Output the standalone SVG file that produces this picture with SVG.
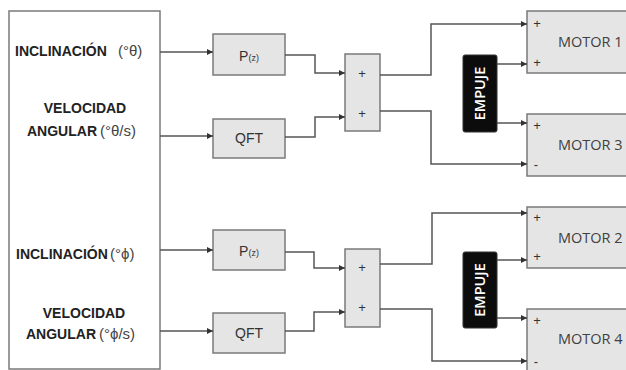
<svg xmlns="http://www.w3.org/2000/svg" width="626" height="370" viewBox="0 0 626 370">
<defs>
<marker id="arr" markerUnits="userSpaceOnUse" markerWidth="8" markerHeight="8" refX="6" refY="3" orient="auto">
<path d="M0,0 L6,3 L0,6 Z" fill="#333"/>
</marker>
<style>
.box{fill:#e5e5e5;stroke:#7a7a7a;stroke-width:1.5}
.frame{fill:#fff;stroke:#7a7a7a;stroke-width:1.5}
.blk{fill:#0c0c0c;stroke:#333;stroke-width:1}
.ln{fill:none;stroke:#555;stroke-width:1.5;marker-end:url(#arr)}
.lab{font-family:"Liberation Sans",Arial,sans-serif;font-size:14px;fill:#222}
.b{font-weight:bold}
.n{font-weight:normal;fill:#444;font-size:15px}
.blab{font-family:"Liberation Sans",Arial,sans-serif;font-size:14px;fill:#333;text-anchor:middle}
.mot{font-family:"Open Sans",sans-serif;font-size:14.5px;fill:#404040}
.sg{font-family:"Liberation Sans",Arial,sans-serif;font-size:13px;fill:#333;text-anchor:middle}
.emp{font-family:"Open Sans",sans-serif;font-size:14.5px;font-weight:600;fill:#fff;text-anchor:middle}
</style>
</defs>
<rect width="626" height="370" fill="#fff"/>

<g id="sensors">
<rect class="frame" x="9" y="11" width="151" height="358"/>
<text class="lab" x="15" y="56"><tspan class="b">INCLINACIÓN</tspan><tspan class="n" x="118">(°θ)</tspan></text>
<text class="lab b" x="85" y="113" text-anchor="middle">VELOCIDAD</text>
<text class="lab" x="27" y="136"><tspan class="b">ANGULAR</tspan><tspan class="n" x="100">(°θ/s)</tspan></text>
<text class="lab" x="16" y="259"><tspan class="b">INCLINACIÓN</tspan><tspan class="n" x="110">(°ϕ)</tspan></text>
<text class="lab b" x="84" y="318" text-anchor="middle">VELOCIDAD</text>
<text class="lab" x="26" y="339"><tspan class="b">ANGULAR</tspan><tspan class="n" x="99">(°ϕ/s)</tspan></text>
</g>

<g id="p1"><rect class="box" x="213" y="34" width="72" height="41"/>
<text class="blab" x="249" y="61">P<tspan font-size="9">(z)</tspan></text></g>
<g id="qft1"><rect class="box" x="213" y="119" width="72" height="39"/>
<text class="blab" x="249" y="143">QFT</text></g>
<g id="p2"><rect class="box" x="213" y="230" width="72" height="40"/>
<text class="blab" x="249" y="256">P<tspan font-size="9">(z)</tspan></text></g>
<g id="qft2"><rect class="box" x="213" y="313" width="72" height="40"/>
<text class="blab" x="249" y="338">QFT</text></g>

<g id="sum1"><rect class="box" x="345" y="54" width="35" height="77"/>
<text class="sg" x="362" y="78">+</text><text class="sg" x="362" y="118">+</text></g>
<g id="sum2"><rect class="box" x="345" y="249" width="35" height="78"/>
<text class="sg" x="362" y="272">+</text><text class="sg" x="362" y="312">+</text></g>

<g id="empuje1"><rect class="blk" x="463" y="55" width="34" height="77" rx="2"/>
<text class="emp" transform="translate(485 93.5) rotate(-90)">EMPUJE</text></g>
<g id="empuje2"><rect class="blk" x="463" y="252" width="34" height="76" rx="2"/>
<text class="emp" transform="translate(485 290) rotate(-90)">EMPUJE</text></g>

<g id="motor1"><rect class="box" x="527" y="11" width="110" height="62"/>
<text class="sg" x="537" y="28">+</text><text class="sg" x="537" y="67">+</text>
<text class="mot" x="558" y="47">MOTOR 1</text></g>
<g id="motor3"><rect class="box" x="527" y="114" width="110" height="62"/>
<text class="sg" x="537" y="130">+</text><text class="sg" x="536" y="169">-</text>
<text class="mot" x="558" y="150">MOTOR 3</text></g>
<g id="motor2"><rect class="box" x="527" y="207" width="110" height="61"/>
<text class="sg" x="537" y="222">+</text><text class="sg" x="537" y="261">+</text>
<text class="mot" x="558" y="243">MOTOR 2</text></g>
<g id="motor4"><rect class="box" x="527" y="309" width="110" height="70"/>
<text class="sg" x="537" y="325">+</text><text class="sg" x="536" y="366">-</text>
<text class="mot" x="558" y="344">MOTOR 4</text></g>

<g id="connectors">
<path class="ln" d="M160,52 H213"/>
<path class="ln" d="M160,136 H213"/>
<path class="ln" d="M160,250 H213"/>
<path class="ln" d="M160,331 H213"/>
<path class="ln" d="M285,55 H315 V73 H345"/>
<path class="ln" d="M285,137 H315 V117 H345"/>
<path class="ln" d="M285,252 H314 V268 H345"/>
<path class="ln" d="M285,331 H314 V312 H345"/>
<path class="ln" d="M380,75 H431 V24 H527"/>
<path class="ln" d="M380,111 H431 V164 H527"/>
<path class="ln" d="M380,264 H432 V213 H527"/>
<path class="ln" d="M380,309 H432 V361 H527"/>
<path class="ln" d="M497,64 H527"/>
<path class="ln" d="M497,123 H527"/>
<path class="ln" d="M497,260 H527"/>
<path class="ln" d="M497,318 H527"/>
</g>
</svg>
